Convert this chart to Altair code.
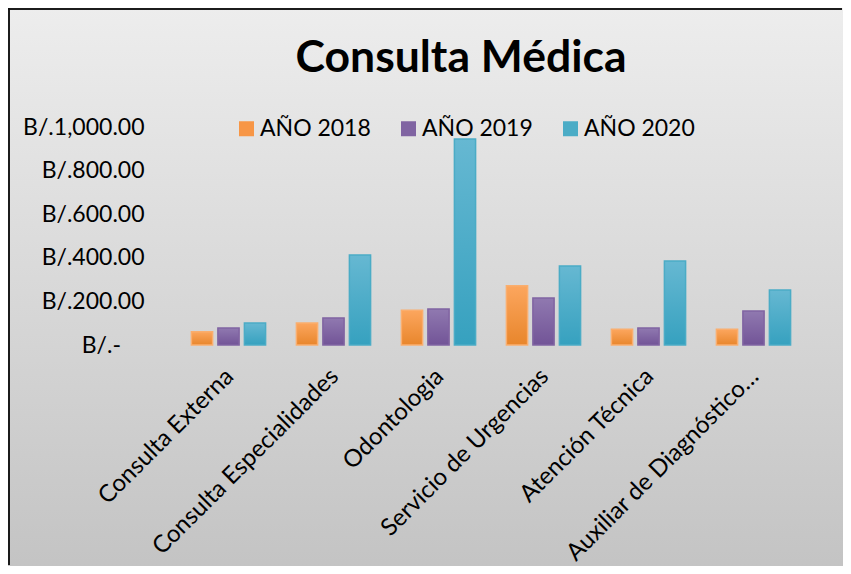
import altair as alt
import pandas as pd

categorias = ["Consulta Externa", "Consulta Especialidades", "Odontologia",
              "Servicio de Urgencias", "Atención Técnica", "Auxiliar de Diagnóstico…"]
series = ["AÑO 2018", "AÑO 2019", "AÑO 2020"]
anio_2018 = [61, 101, 159, 272, 72, 72]
anio_2019 = [78, 124, 165, 216, 78, 156]
anio_2020 = [101, 413, 945, 362, 385, 252]
colores = ["#F79646", "#8064A2", "#4BACC6"]
grad_top = ["#FCA65E", "#9079B0", "#66B8D2"]
grad_bot = ["#E8862C", "#725497", "#36A1BF"]
bordes = ["#FAAE6E", "#8064A2", "#4BACC6"]
titulo = "Consulta Médica"

rows = []
for s, vals in zip(series, [anio_2018, anio_2019, anio_2020]):
    for c, v in zip(categorias, vals):
        rows.append({"categoria": c, "serie": s, "valor": v})
df = pd.DataFrame(rows)

W, H = 630, 218
PL, PT = 168, 119
TOTW, TOTH = 835, 558
FONT = "Lato"

def grad(top, bot):
    return alt.LinearGradient(gradient="linear", x1=0, y1=0, x2=0, y2=1,
                              stops=[alt.GradientStop(color=top, offset=0),
                                     alt.GradientStop(color=bot, offset=1)])

one = pd.DataFrame({"k": [0]})

bg = alt.Chart(one).mark_rect(
    fill=grad("#EDEDED", "#C3C3C3"), stroke="transparent", strokeWidth=0
).encode(x=alt.value(-PL - 10), x2=alt.value(TOTW - PL + 10),
         y=alt.value(-PT), y2=alt.value(TOTH - PT + 10))

# thin dark frame on the top and left edges, drawn as semi-opaque bands
frame_top = alt.Chart(one).mark_rect(fill="#111111", opacity=0.95, strokeWidth=0).encode(
    x=alt.value(-PL), x2=alt.value(TOTW - PL - 1), y=alt.value(-PT), y2=alt.value(-PT + 2))
frame_left = alt.Chart(one).mark_rect(fill="#111111", opacity=0.95, strokeWidth=0).encode(
    x=alt.value(-PL), x2=alt.value(-PL + 2), y=alt.value(-PT), y2=alt.value(TOTH - PT - 1))

title = alt.Chart(one).mark_text(
    text=titulo, font=FONT, fontSize=44.5, fontWeight="bold", color="#000000",
    align="center", baseline="alphabetic"
).encode(x=alt.value(285), y=alt.value(-55))

x_enc = alt.X("categoria:N", sort=categorias, title=None,
              scale=alt.Scale(paddingInner=0.243, paddingOuter=0.1215),
              axis=alt.Axis(labelAngle=-45, labelFont=FONT, labelFontSize=24,
                            labelColor="#000000", ticks=False, domain=False,
                            labelPadding=19, labelOffset=-7, labelLimit=400,
                            grid=False, zindex=1))
xo_enc = alt.XOffset("serie:N", sort=series,
                     scale=alt.Scale(domain=series, paddingInner=0.2, paddingOuter=0.1))
y_enc = alt.Y("valor:Q", title=None,
              scale=alt.Scale(domain=[0, 1000], nice=False),
              axis=alt.Axis(values=[0, 200, 400, 600, 800, 1000], grid=False,
                            domain=False, ticks=False, labelFont=FONT, zindex=1,
                            labelFontSize=23, labelColor="#000000", labelPadding=32,
                            labelExpr="datum.value == 0 ? 'B/.-\u00a0\u00a0\u00a0\u00a0\u200b' : 'B/.' + format(datum.value, ',.2f')"))

base = alt.Chart(df).mark_bar().encode(
    x=x_enc, xOffset=xo_enc, y=y_enc,
    color=alt.Color("serie:N", sort=series,
                    scale=alt.Scale(domain=series, range=colores),
                    legend=alt.Legend(title=None, orient="none", direction="horizontal",
                                      legendX=59, legendY=-10, symbolType="square",
                                      symbolSize=225, symbolStrokeWidth=0,
                                      labelFont=FONT, labelFontSize=23,
                                      labelColor="#000000", labelOffset=2,
                                      columnPadding=26, padding=0))
)

overlays = []
for s, t, b, st in zip(series, grad_top, grad_bot, bordes):
    overlays.append(
        alt.Chart(df).transform_filter(alt.datum.serie == s).mark_bar(
            fill=grad(t, b), stroke=st, strokeWidth=1.5
        ).encode(x=x_enc, xOffset=xo_enc, y=y_enc)
    )

chart = alt.layer(bg, frame_top, frame_left, title, base, *overlays).properties(
    width=W, height=H,
    autosize=alt.AutoSizeParams(type="none"),
    padding={"left": PL, "top": PT, "right": TOTW - PL - W, "bottom": TOTH - PT - H},
    background="#E6E6E6"
).configure_view(stroke=None)

chart.save("out.html", embed_options={"renderer": "svg", "actions": False})
